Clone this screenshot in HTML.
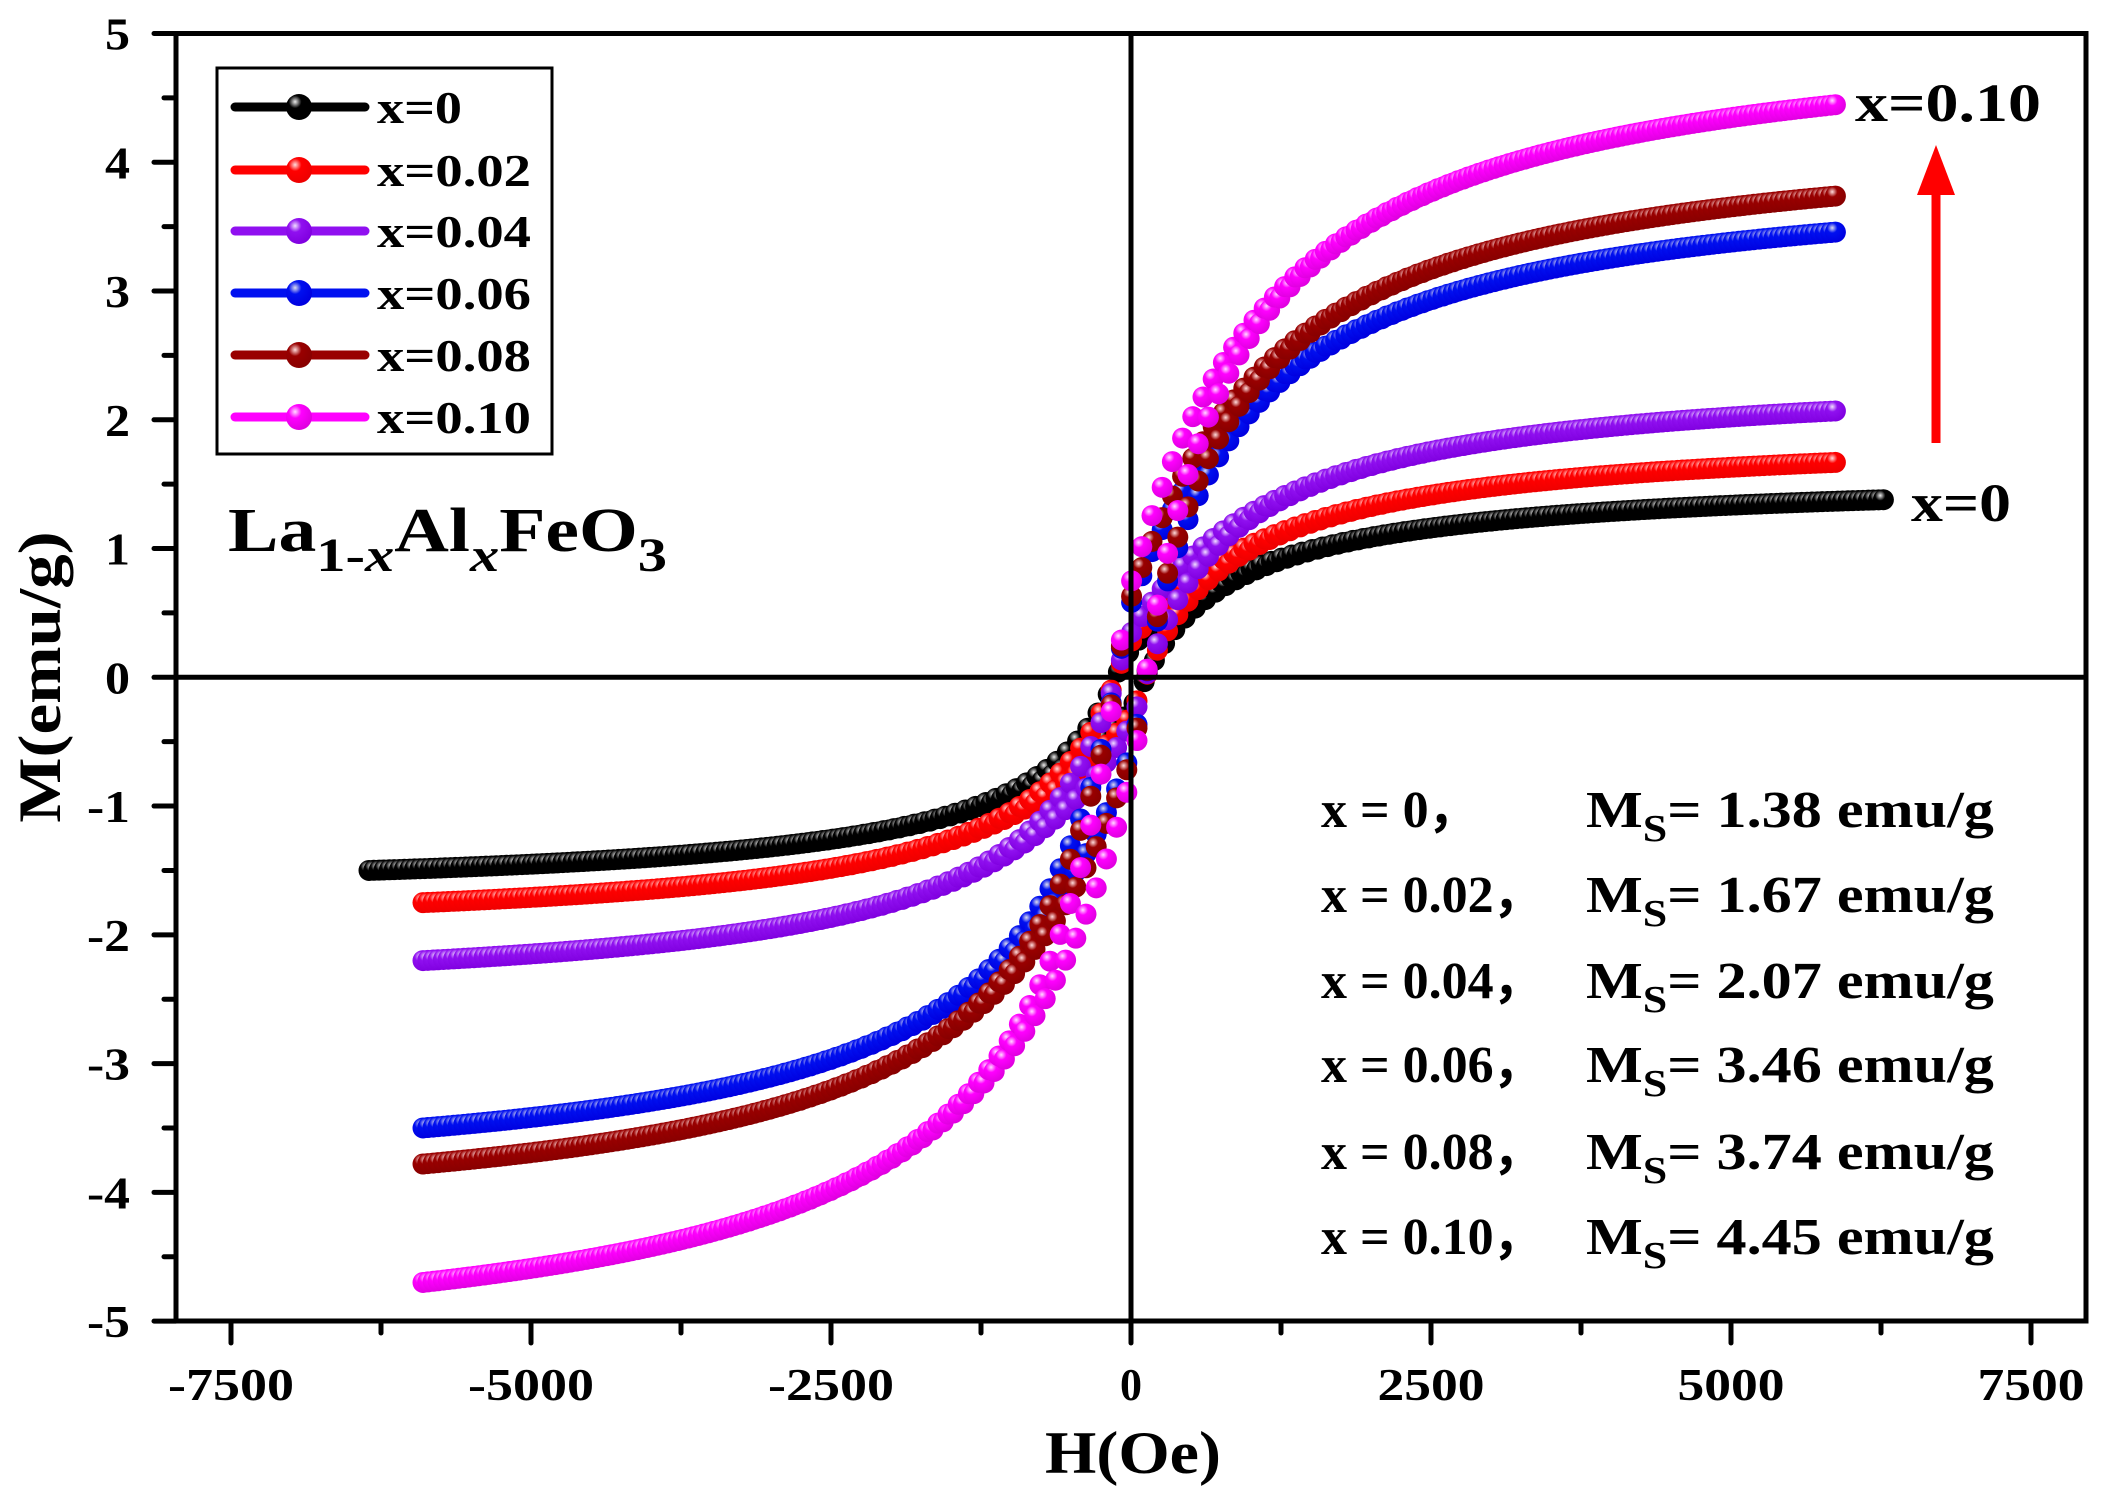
<!DOCTYPE html>
<html><head><meta charset="utf-8"><style>
html,body{margin:0;padding:0;background:#fff;}
svg{display:block;font-family:"Liberation Serif",serif;font-weight:bold;}
</style></head><body>
<svg id="s" width="2103" height="1501" viewBox="0 0 2103 1501" xmlns="http://www.w3.org/2000/svg">
<defs>
<radialGradient id="g0" cx="0.35" cy="0.3" r="0.7"><stop offset="0" stop-color="#eee"/><stop offset="0.35" stop-color="#000"/><stop offset="1" stop-color="#000"/></radialGradient>
<radialGradient id="g1" cx="0.35" cy="0.3" r="0.7"><stop offset="0" stop-color="#fdd"/><stop offset="0.35" stop-color="#f00"/><stop offset="1" stop-color="#e00"/></radialGradient>
<radialGradient id="g2" cx="0.35" cy="0.3" r="0.7"><stop offset="0" stop-color="#f0e0ff"/><stop offset="0.35" stop-color="#9010f0"/><stop offset="1" stop-color="#8000e0"/></radialGradient>
<radialGradient id="g3" cx="0.35" cy="0.3" r="0.7"><stop offset="0" stop-color="#dde"/><stop offset="0.35" stop-color="#0010f0"/><stop offset="1" stop-color="#0000e0"/></radialGradient>
<radialGradient id="g4" cx="0.35" cy="0.3" r="0.7"><stop offset="0" stop-color="#fdd"/><stop offset="0.35" stop-color="#900"/><stop offset="1" stop-color="#800"/></radialGradient>
<radialGradient id="g5" cx="0.35" cy="0.3" r="0.7"><stop offset="0" stop-color="#fdf"/><stop offset="0.35" stop-color="#f0f"/><stop offset="1" stop-color="#e000e0"/></radialGradient>
</defs>
<g id="data"></g>
<rect x="176" y="33.5" width="1910" height="1287.5" fill="none" stroke="#000" stroke-width="5"/>
<line x1="1131" y1="33.5" x2="1131" y2="1321" stroke="#000" stroke-width="5"/>
<line x1="176" y1="677.3" x2="2086" y2="677.3" stroke="#000" stroke-width="5"/>
<g id="ticks" stroke="#000" stroke-width="5" stroke-linecap="round"></g>
<g id="labels" font-size="46" fill="#000"></g>
<text transform="translate(1133,1473) scale(1.1,1)" font-size="60" text-anchor="middle">H(Oe)</text>
<text transform="translate(60,677) rotate(-90) scale(1.15,1)" font-size="60" text-anchor="middle">M(emu/g)</text>
<rect x="217" y="68" width="335" height="386" fill="#fff" stroke="#000" stroke-width="3"/>
<g id="leg" font-size="46"></g>
<text transform="translate(228,551) scale(1.22,1)" font-size="62">La<tspan font-size="48" dy="20">1-<tspan font-style="italic">x</tspan></tspan><tspan dy="-20">Al</tspan><tspan font-size="48" dy="20" font-style="italic">x</tspan><tspan dy="-20">FeO</tspan><tspan font-size="48" dy="20">3</tspan></text>
<text x="1855" y="121" font-size="54" textLength="186" lengthAdjust="spacingAndGlyphs">x=0.10</text>
<text x="1911" y="521" font-size="54" textLength="100" lengthAdjust="spacingAndGlyphs">x=0</text>
<line x1="1936" y1="443" x2="1936" y2="185" stroke="#f00" stroke-width="9"/>
<polygon points="1936,145 1917,195 1955,195" fill="#f00"/>
<g id="ann" font-size="52"></g>
</svg>
<script>
const NS="http://www.w3.org/2000/svg";
const X=h=>1131+h*0.12, Y=m=>677.3-m*128.76;
function el(p,t,a,txt){const e=document.createElementNS(NS,t);for(const k in a)e.setAttribute(k,a[k]);if(txt!=null)e.textContent=txt;document.getElementById(p).appendChild(e);return e;}
for(let v=-7500;v<=7500;v+=1250){const maj=v%2500===0;el("ticks","line",{x1:X(v),x2:X(v),y1:1321,y2:1321+(maj?22:12)});}
for(let v=-5;v<=5;v+=0.5){const maj=Number.isInteger(v);el("ticks","line",{x1:176,x2:176-(maj?22:12),y1:Y(v),y2:Y(v)});}
for(let v=-7500;v<=7500;v+=2500){const s=String(v);const w=s==="0"?22:(s.length===5?126:107);
 el("labels","text",{x:X(v),y:1400,"text-anchor":"middle",textLength:w,lengthAdjust:"spacingAndGlyphs"},s);}
for(let v=-5;v<=5;v++){const s=String(v);el("labels","text",{x:130,y:Y(v)+16,"text-anchor":"end",textLength:s.length>1?43:25,lengthAdjust:"spacingAndGlyphs"},s);}
const cols=["#000","#f00","#9010f0","#0010f0","#900","#f0f"];
const names=["x=0","x=0.02","x=0.04","x=0.06","x=0.08","x=0.10"];
const ly=[107,170,231,293,355,417];
for(let i=0;i<6;i++){el("leg","line",{x1:235,x2:365,y1:ly[i],y2:ly[i],stroke:cols[i],"stroke-width":9,"stroke-linecap":"round"});
el("leg","circle",{cx:299,cy:ly[i],r:13,fill:`url(#g${i})`});
el("leg","text",{x:377,y:ly[i]+16,textLength:i===0?85:154,lengthAdjust:"spacingAndGlyphs"},names[i]);}
const pos=[1.38,1.67,2.07,3.46,3.74,4.45], neg=[1.5,1.75,2.2,3.5,3.78,4.7];
const h0=900;
for(let i=0;i<6;i++){
 const hmax=i===0?6300:5900, hmin=i===0?-6350:-5900;
 const Ap=pos[i]/(hmax/(hmax+h0)), An=neg[i]/(-hmin/(-hmin+h0));
 const f=h=>(h>0?Ap:An)*h/(Math.abs(h)+h0);
 const hc=h=>150*Math.exp(-Math.abs(h)/700);
 let pts=[];
 for(let h=hmin;h<=hmax;h+=85){pts.push([h,f(h-hc(h))]);pts.push([h+40,f(h+40+hc(h+40))]);}
 for(const [h,m] of pts) el("data","circle",{cx:X(h),cy:Y(m),r:10.5,fill:`url(#g${i})`});
}
const ann=[["x = 0，","1.38"],["x = 0.02，","1.67"],["x = 0.04，","2.07"],["x = 0.06，","3.46"],["x = 0.08，","3.74"],["x = 0.10，","4.45"]];
const ay=[827,912,998,1082,1169,1254];
for(let i=0;i<6;i++){
 el("ann","text",{x:1321,y:ay[i]},ann[i][0]);
 const t=el("ann","text",{x:1586,y:ay[i]});
 t.innerHTML=`M<tspan font-size="38" dy="14">S</tspan><tspan dy="-14">= ${ann[i][1]} emu/g</tspan>`;
 const bb=t.getBBox();
 if(bb.width>0){const s=408/bb.width;t.setAttribute("transform",`translate(1586,0) scale(${s},1) translate(-1586,0)`);}
}
</script>
</body></html>
